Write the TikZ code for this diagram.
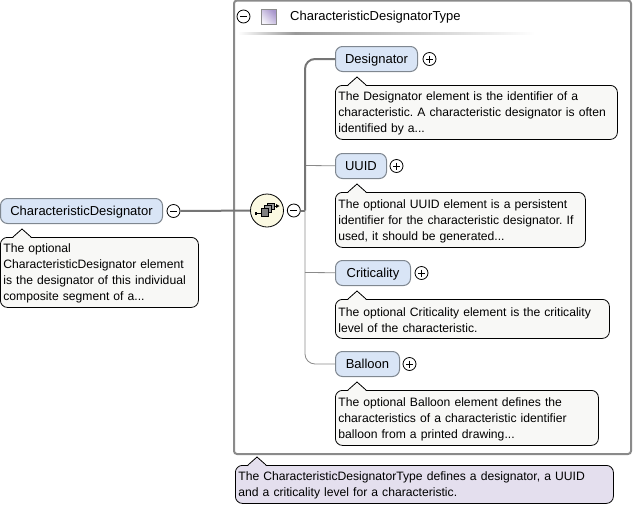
\documentclass[tikz,border=0pt]{standalone}
\usepackage{fontspec}
\setmainfont{Liberation Sans}
\usetikzlibrary{positioning}

\definecolor{elemfill}{HTML}{D9E5F6}
\definecolor{elemline}{HTML}{7F8790}
\definecolor{notefill}{HTML}{F8F8F6}
\definecolor{typefill}{HTML}{E4DFEE}
\definecolor{seqfill}{HTML}{FBF9E2}
\definecolor{wirecol}{HTML}{8A8A8A}
\definecolor{swatchdark}{HTML}{A896CC}
\definecolor{swatchlight}{HTML}{F4F2FA}

\tikzset{
    elem/.style={draw=elemline, fill=elemfill, rounded corners=7pt, line width=1pt,
        minimum height=25pt, inner sep=0pt, text height=11.5pt, text depth=3pt,
        font=\fontsize{13}{16}\selectfont},
    note/.style={draw=black, fill=notefill, rounded corners=7pt, line width=0.8pt,
        inner xsep=3pt, inner ysep=0pt, align=left, anchor=north west,
        execute at begin node=\rule{0pt}{11pt},
        font=\fontsize{12.15}{16}\selectfont\frenchspacing},
    btn/.style={circle, draw=black, line width=0.8pt, fill=white, minimum size=13pt, inner sep=0pt},
    thinwire/.style={draw=wirecol, line width=0.8pt, rounded corners=10pt},
    thickwire/.style={draw=wirecol!85!black, line width=2pt, rounded corners=10pt},
}

% open button and collapsed button
\newcommand{\minusbtn}[2]{\node[btn, #2, path picture={
    \draw[line width=0.8pt] ([xshift=-3.5pt]path picture bounding box.center) -- ++(7,0);}] (#1) {};}
\newcommand{\plusbtn}[2]{\node[btn, #2, path picture={
    \draw[line width=0.8pt] ([xshift=-3.5pt]path picture bounding box.center) -- ++(7,0);
    \draw[line width=0.8pt] ([yshift=3.5pt]path picture bounding box.center) -- ++(0,7);}] (#1) {};}
% pointer on top of a note, #1 is the note and #2 the fill
\newcommand{\notetip}[2]{
    \fill[#2] ([xshift=13pt,yshift=-0.8pt]#1.north west) -- ++(9,-8.8) -- ++(9,8.8) -- cycle;
    \draw[line width=0.8pt] ([xshift=13pt]#1.north west) -- ++(9,-8) -- ++(9,8);}

\begin{document}
\begin{tikzpicture}[x=1pt, y=-1pt]
    \useasboundingbox (0,0) rectangle (633,507);

    % type frame
    \draw[draw=wirecol, line width=2pt, rounded corners=3pt] (234,0.5) -- (234,454) -- (631,454) -- (631,0.5) -- cycle;
    \minusbtn{typeminus}{at={(243.5,16.5)}}
    \node[draw=black!45, shading=axis, left color=swatchdark, right color=swatchlight, shading angle=-45,
        minimum size=15pt, inner sep=0pt] (swatch) at (268.5,16.5) {};
    \node[anchor=west, inner sep=0pt, font=\fontsize{13}{16}\selectfont] (typename) at (290,17.5) {CharacteristicDesignatorType};
    \shade[left color=white, right color=black!40] (238,32) rectangle (295,34);
    \shade[left color=black!40, right color=white] (295,32) rectangle (535,34);

    % root element
    \node[elem, anchor=north west, minimum width=162pt] (root) at (0,198) {CharacteristicDesignator};
    \node[note, below right=13pt and 0pt of root.south west, anchor=north west, text width=192pt, minimum height=70pt] (rootnote)
        {The optional\\CharacteristicDesignator element\\is the designator of this individual\\composite segment of a...};
    \notetip{rootnote}{notefill}
    \minusbtn{rootminus}{right=3.6pt of root}

    % sequence
    \node[circle, draw=black, fill=seqfill, line width=0.8pt, minimum size=33pt, inner sep=0pt] (seq) at (267,210.5) {};
    \minusbtn{seqminus}{right=3pt of seq}
    \coordinate (trunk) at (305,210.5);
    \draw[thickwire] (rootminus) -- (seq);
    \draw[thickwire, rounded corners=0pt] (seqminus) -- (trunk);

    % icon in the sequence
    \draw[line width=0.8pt] (256,213) -- (261,213);
    \fill (255,211.5) rectangle (257,214.5);
    \draw[line width=0.8pt] (274,206) -- (277,206);
    \fill (276,204) -- (279.5,206) -- (276,208) -- cycle;
    \draw[fill=black!40, line width=0.8pt] (267.5,203) rectangle (274,209.5);
    \draw[fill=black!40, line width=0.8pt] (264.5,205.5) rectangle (271,212);
    \draw[fill=black!50, line width=0.8pt] (261,208.5) rectangle (268.5,216.5);

    % child elements
    \node[elem, anchor=north west, minimum width=82pt] (designator) at (335,46) {Designator};
    \plusbtn{designatorplus}{right=4.6pt of designator}
    \node[note, below right=13pt and 0pt of designator.south west, anchor=north west, text width=276pt, minimum height=54pt] (designatornote)
        {The Designator element is the identifier of a\\characteristic. A characteristic designator is often\\identified by a...};
    \notetip{designatornote}{notefill}

    \node[elem, anchor=north west, minimum width=51pt] (uuid) at (335,153) {UUID};
    \plusbtn{uuidplus}{right=2.6pt of uuid}
    \node[note, below right=13pt and 0pt of uuid.south west, anchor=north west, text width=244pt, minimum height=55pt] (uuidnote)
        {The optional UUID element is a persistent\\identifier for the characteristic designator. If\\used, it should be generated...};
    \notetip{uuidnote}{notefill}

    \node[elem, anchor=north west, minimum width=75pt] (criticality) at (335,260) {Criticality};
    \plusbtn{criticalityplus}{right=3.6pt of criticality}
    \node[note, below right=13pt and 0pt of criticality.south west, anchor=north west, text width=268pt, minimum height=39pt] (criticalitynote)
        {The optional Criticality element is the criticality\\level of the characteristic.};
    \notetip{criticalitynote}{notefill}

    \node[elem, anchor=north west, minimum width=64pt] (balloon) at (335,351) {Balloon};
    \plusbtn{balloonplus}{right=2.6pt of balloon}
    \node[note, below right=13pt and 0pt of balloon.south west, anchor=north west, text width=257pt, minimum height=55pt] (balloonnote)
        {The optional Balloon element defines the\\characteristics of a characteristic identifier\\balloon from a printed drawing...};
    \notetip{balloonnote}{notefill}

    % wires to the children
    \draw[thinwire] (trunk) |- (balloon);
    \draw[thinwire, rounded corners=0pt] (305,272.5) -- (criticality);
    \draw[thinwire, rounded corners=0pt] (305,165.5) -- (uuid);
    \draw[thickwire] (trunk) |- (designator);

    % type note
    \node[note, fill=typefill, text width=372pt, minimum height=38pt] (typenote) at (235,465)
        {The CharacteristicDesignatorType defines a designator, a UUID\\and a criticality level for a characteristic.};
    \notetip{typenote}{typefill}
\end{tikzpicture}
\end{document}
